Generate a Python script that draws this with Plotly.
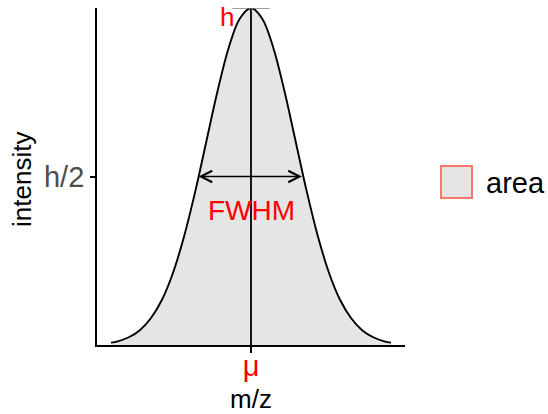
import plotly.graph_objects as go

# ---- data (x in sigma units, mu = 0, intensity relative to h) ----
mz = [-3.15, -3.0, -2.75, -2.5, -2.25, -2.0, -1.75, -1.5, -1.25, -1.0, -0.75, -0.5, -0.25,
      0.0, 0.25, 0.5, 0.75, 1.0, 1.25, 1.5, 1.75, 2.0, 2.25, 2.5, 2.75, 3.0, 3.15]
intensity = [0.007, 0.011, 0.023, 0.044, 0.080, 0.135, 0.216, 0.325, 0.458, 0.607, 0.755, 0.883, 0.969,
             1.0, 0.969, 0.883, 0.755, 0.607, 0.458, 0.325, 0.216, 0.135, 0.080, 0.044, 0.023, 0.011, 0.007]
mu = 0.0
h = 1.0
half_h = 0.5
fwhm_left = -1.18
fwhm_right = 1.18
top_seg = [-0.42, 0.42]
x_tick_vals = [mu]
x_tick_text = ["μ"]
y_tick_vals = [half_h]
y_tick_text = ["h/2"]
legend_label = "area"
x_title = "m/z"
y_title = "intensity"

FONT = "Liberation Sans, Arial, sans-serif"
FILL = "#E5E5E5"
SALMON = "#F8766D"

fig = go.Figure()

# filled area
fig.add_trace(go.Scatter(x=mz, y=intensity, mode="lines", fill="tozeroy",
                         fillcolor=FILL, line=dict(color="black", width=1.9, shape="spline"),
                         showlegend=False, hoverinfo="skip"))
# vertical line at mu
fig.add_trace(go.Scatter(x=[mu, mu], y=[0, h], mode="lines",
                         line=dict(color="black", width=1.8), showlegend=False,
                         cliponaxis=False, hoverinfo="skip"))
# short segment at the top (h)
fig.add_trace(go.Scatter(x=top_seg, y=[h, h], mode="lines",
                         line=dict(color="#7F7F7F", width=1.3), showlegend=False,
                         cliponaxis=False, hoverinfo="skip"))

# FWHM double arrow
fig.add_annotation(x=fwhm_left, y=half_h, ax=fwhm_right, ay=half_h, axref="x", ayref="y",
                   xref="x", yref="y", text="", showarrow=True,
                   arrowhead=5, startarrowhead=5, arrowside="end+start",
                   arrowsize=1.3, startarrowsize=1.3, arrowwidth=1.7, arrowcolor="black",
                   standoff=0, startstandoff=0)

fig.add_annotation(x=mu, y=0.40, xref="x", yref="y", text="FWHM", showarrow=False,
                   font=dict(family=FONT, size=28, color="red"), xanchor="center", yanchor="middle")
fig.add_annotation(x=-0.33, y=0.972, xref="x", yref="y", text="h", showarrow=False,
                   font=dict(family=FONT, size=26, color="red"), xanchor="right", yanchor="middle")

# pixel helpers for paper placement
x0p, x1p = 97, 405
y0p, y1p = 345, 8
def px(xpix):
    return (xpix - x0p) / (x1p - x0p)
def py(ypix):
    return (y0p - ypix) / (y0p - y1p)

# axis titles
fig.add_annotation(x=px(251), y=py(399), xref="paper", yref="paper", text=x_title,
                   showarrow=False, xanchor="center", yanchor="middle",
                   font=dict(family=FONT, size=26, color="black"))
fig.add_annotation(x=px(22), y=py(180), xref="paper", yref="paper", text=y_title,
                   showarrow=False, xanchor="center", yanchor="middle", textangle=-90,
                   font=dict(family=FONT, size=26, color="black"))

# manual legend
fig.add_shape(type="rect", xref="paper", yref="paper",
              x0=px(441), x1=px(472), y0=py(198), y1=py(166),
              fillcolor=FILL, line=dict(color=SALMON, width=2))
fig.add_annotation(x=px(484), y=py(183), xref="paper", yref="paper", text=legend_label,
                   showarrow=False, xanchor="left", yanchor="middle",
                   font=dict(family=FONT, size=29, color="black"))

fig.update_layout(
    width=548, height=414,
    margin=dict(l=97, r=143, t=8, b=69),
    paper_bgcolor="white", plot_bgcolor="white",
    font=dict(family=FONT),
    showlegend=False,
    xaxis=dict(range=[-3.465, 3.465], showgrid=False, zeroline=False, automargin=False,
               showline=True, linecolor="black", linewidth=1.8,
               tickvals=x_tick_vals, ticktext=x_tick_text, ticks="outside",
               ticklen=6, tickwidth=1.5, tickcolor="black", ticklabelstandoff=-12,
               tickfont=dict(family=FONT, size=29, color="red")),
    yaxis=dict(range=[0, 1], showgrid=False, zeroline=False, automargin=False,
               showline=True, linecolor="black", linewidth=1.8,
               tickvals=y_tick_vals, ticktext=y_tick_text, ticks="outside",
               ticklen=5, tickwidth=1.5, tickcolor="black",
               tickfont=dict(family=FONT, size=29, color="#4D4D4D")),
)

fig.write_html("out.html", config={"displayModeBar": False},
               post_script="document.body.style.margin='0';")
